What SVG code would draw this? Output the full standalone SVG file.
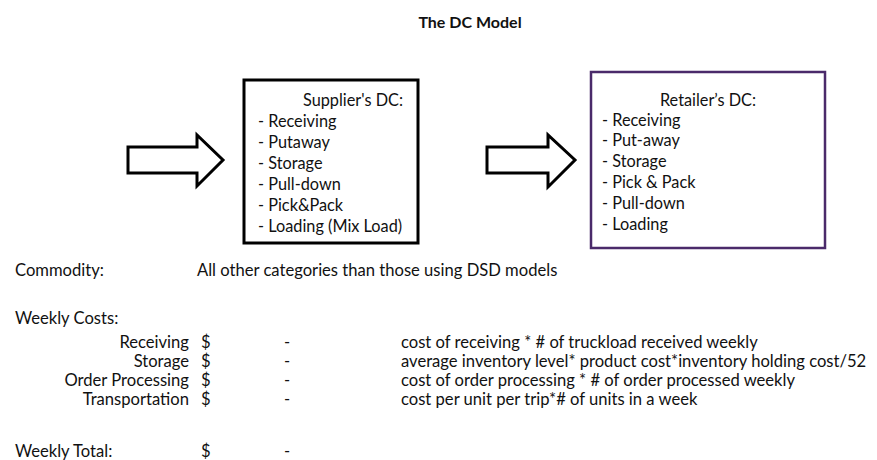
<svg xmlns="http://www.w3.org/2000/svg" width="877" height="460" viewBox="0 0 877 460">
<style>
text{font-family:Lato,"Liberation Sans",sans-serif;font-size:16.3px;fill:#111}
#table text{font-size:16.6px}
.t{font-weight:bold;font-size:16px}
.r{text-anchor:end}
.m{text-anchor:middle}
.arrow{fill:#fff;stroke:#000;stroke-width:3;stroke-linejoin:miter}
</style>
<rect width="877" height="460" fill="#fff"/>
<text class="t m" x="470" y="28">The DC Model</text>
<g id="connectors">
<path class="arrow" d="M128,147 H197 V135 L223,160 L197,186 V173 H128 Z"/>
<path class="arrow" d="M487,147 H548 V135 L575,160 L548,187 V173 H487 Z"/>
</g>
<g id="supplier">
<rect x="244" y="80" width="174" height="163" fill="#fff" stroke="#000" stroke-width="3"/>
<text class="m" x="353" y="106">Supplier's DC:</text>
<text x="258" y="127">- Receiving</text>
<text x="258" y="148">- Putaway</text>
<text x="258" y="169">- Storage</text>
<text x="258" y="190">- Pull-down</text>
<text x="258" y="211">- Pick&amp;Pack</text>
<text x="258" y="232">- Loading (Mix Load)</text>
</g>
<g id="retailer">
<rect x="591" y="72" width="234" height="176" fill="#fff" stroke="#4a2a6a" stroke-width="2.5"/>
<text class="m" x="708" y="106">Retailer’s DC:</text>
<text x="602" y="126">- Receiving</text>
<text x="602" y="146">- Put-away</text>
<text x="602" y="167">- Storage</text>
<text x="602" y="188">- Pick &amp; Pack</text>
<text x="602" y="209">- Pull-down</text>
<text x="602" y="230">- Loading</text>
</g>
<g id="table">
<text x="15" y="276">Commodity:</text>
<text x="197" y="276">All other categories than those using DSD models</text>
<text x="15" y="324">Weekly Costs:</text>
<text class="r" x="189" y="348">Receiving</text>
<text class="r" x="189" y="367">Storage</text>
<text class="r" x="189" y="386">Order Processing</text>
<text class="r" x="189" y="405">Transportation</text>
<text x="201" y="348">$</text>
<text x="201" y="367">$</text>
<text x="201" y="386">$</text>
<text x="201" y="405">$</text>
<text x="284" y="348">-</text>
<text x="284" y="367">-</text>
<text x="284" y="386">-</text>
<text x="284" y="405">-</text>
<text x="401" y="348">cost of receiving * # of truckload received weekly</text>
<text x="401" y="367">average inventory level* product cost*inventory holding cost/52</text>
<text x="401" y="386">cost of order processing * # of order processed weekly</text>
<text x="401" y="405">cost per unit per trip*# of units in a week</text>
<text x="15" y="457">Weekly Total:</text>
<text x="201" y="457">$</text>
<text x="284" y="457">-</text>
</g>
</svg>
